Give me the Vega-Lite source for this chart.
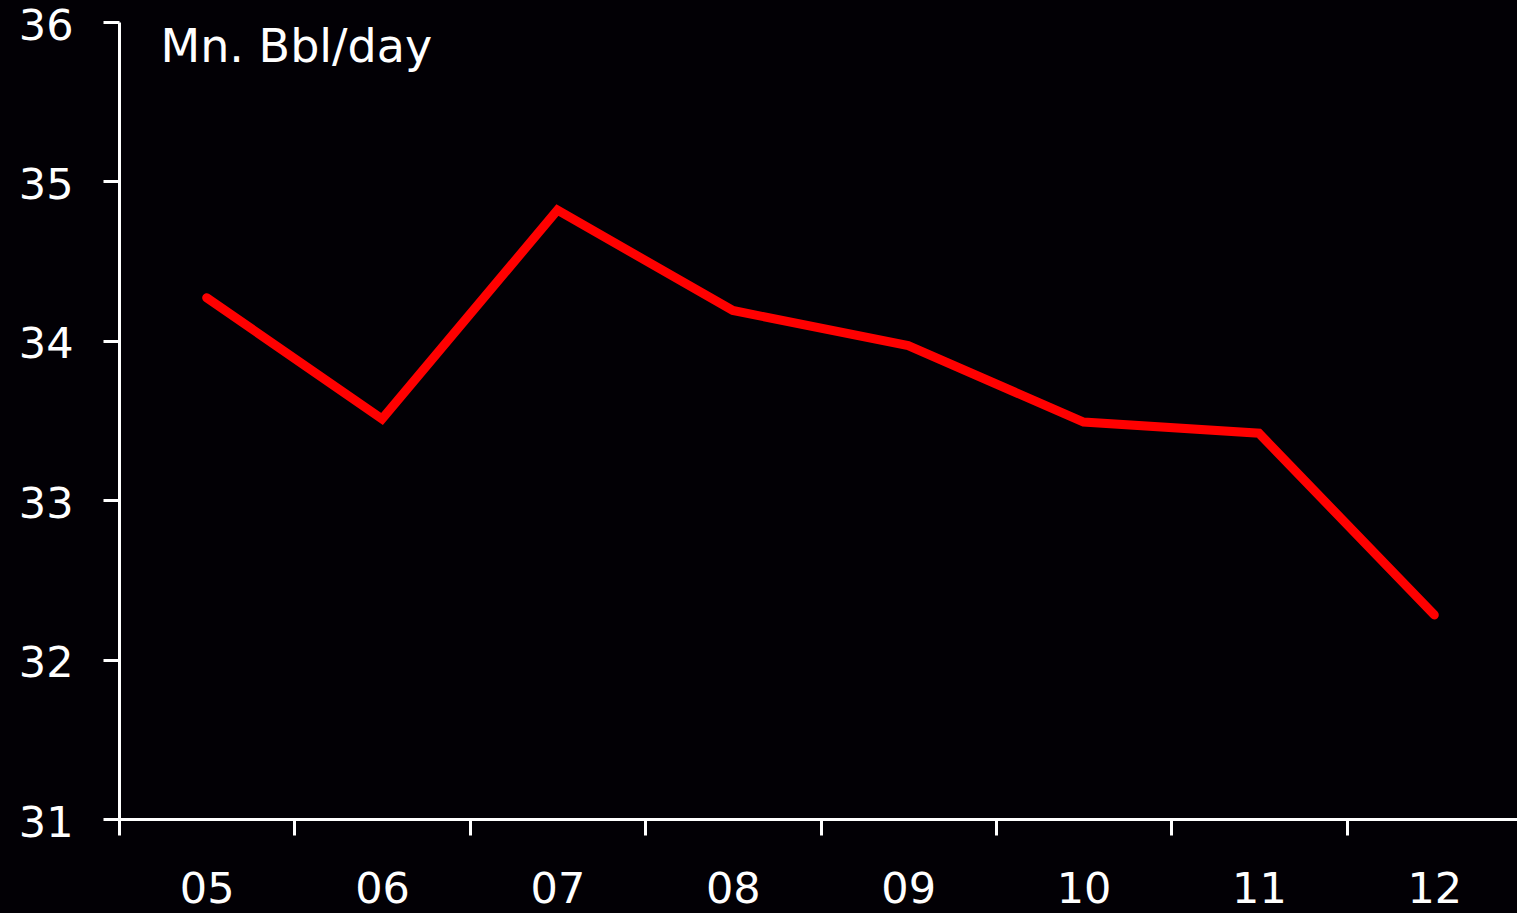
{
  "$schema": "https://vega.github.io/schema/vega-lite/v6.json",
  "width": 1398,
  "height": 797,
  "autosize": {"type": "none"},
  "padding": {"left": 119, "top": 22, "right": 0, "bottom": 94},
  "background": "#020005",
  "config": {
    "view": {"stroke": null},
    "font": "DejaVu Sans",
    "axis": {
      "domainColor": "#ffffff",
      "domainWidth": 3,
      "tickColor": "#ffffff",
      "tickWidth": 3,
      "tickSize": 16,
      "labelColor": "#ffffff",
      "labelFont": "DejaVu Sans",
      "labelFontSize": 43,
      "grid": false
    }
  },
  "data": {
    "values": [
      {"year": "05", "value": 34.27},
      {"year": "06", "value": 33.51},
      {"year": "07", "value": 34.82},
      {"year": "08", "value": 34.19},
      {"year": "09", "value": 33.97},
      {"year": "10", "value": 33.49},
      {"year": "11", "value": 33.42},
      {"year": "12", "value": 32.28}
    ]
  },
  "mark": {"type": "line", "color": "#ff0000", "strokeWidth": 9, "strokeCap": "round", "clip": false},
  "encoding": {
    "x": {
      "field": "year",
      "type": "ordinal",
      "bandPosition": 0.5,
      "scale": {"type": "band", "paddingInner": 0, "paddingOuter": 0, "range": [0, 1403]},
      "axis": {"title": null, "labelAngle": 0, "tickBand": "extent", "labelPadding": 33}
    },
    "y": {
      "field": "value",
      "type": "quantitative",
      "scale": {"domain": [31, 36], "nice": false, "zero": false},
      "axis": {
        "values": [31, 32, 33, 34, 35, 36],
        "labelPadding": 30,
        "labelOffset": 4,
        "title": "Mn. Bbl/day",
        "titleAngle": 0,
        "titleAlign": "left",
        "titleBaseline": "alphabetic",
        "titleX": 41,
        "titleY": 39,
        "titleColor": "#ffffff",
        "titleFont": "DejaVu Sans",
        "titleFontSize": 46,
        "titleFontWeight": "normal"
      }
    }
  }
}
